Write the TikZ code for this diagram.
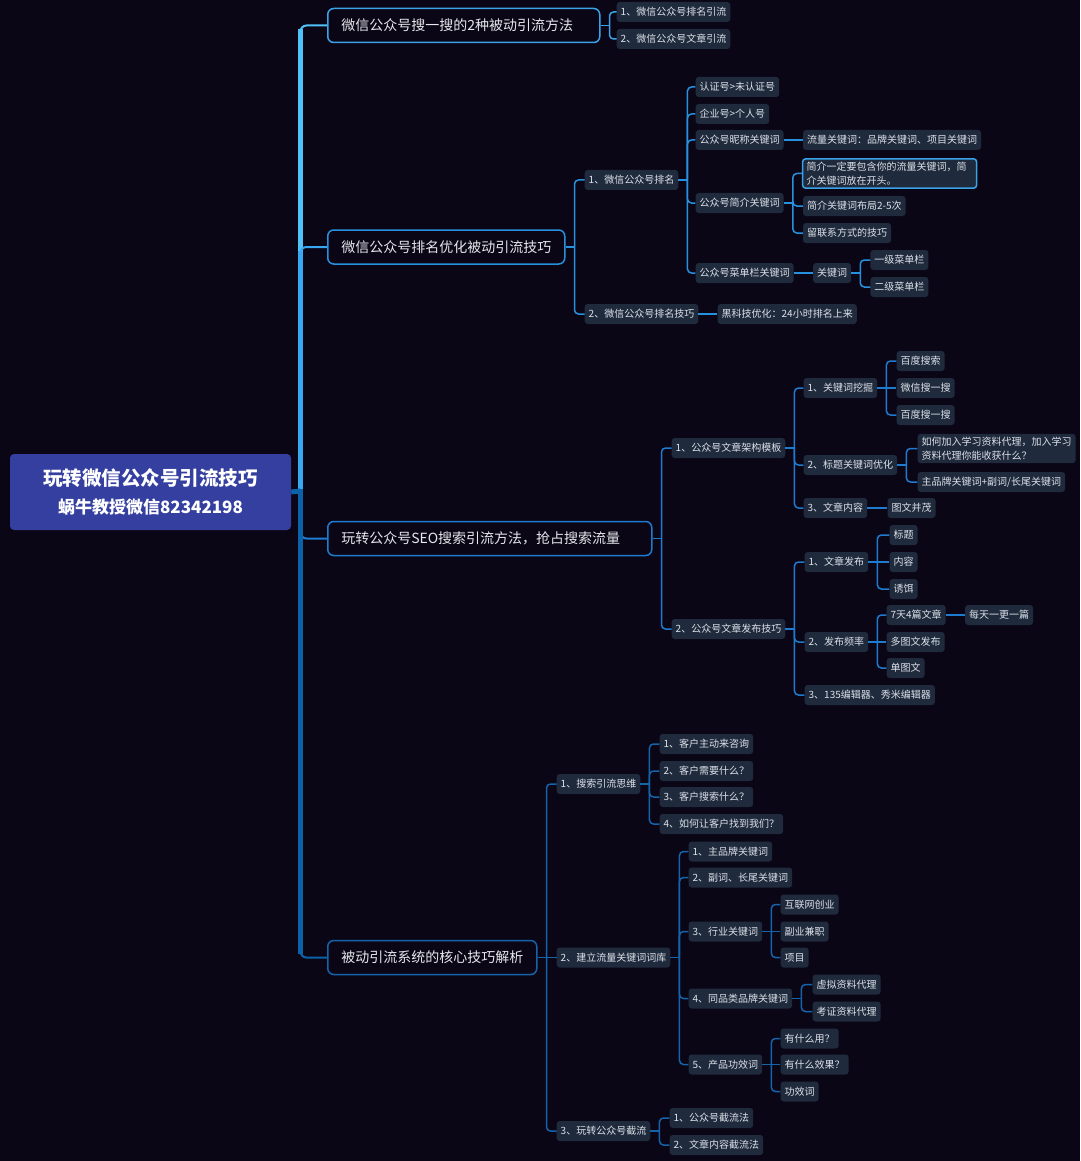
\documentclass[tikz,border=0pt]{standalone}
\usepackage{fontspec}
\setmainfont{Noto Sans CJK SC}
\usetikzlibrary{positioning}

\definecolor{bgc}{HTML}{0A0616}
\definecolor{rootc}{HTML}{343FA0}
\definecolor{leaffill}{HTML}{1F2A3C}
\definecolor{leaftext}{HTML}{DDE2EA}
\definecolor{limbtext}{HTML}{E6E8EC}
\definecolor{t1}{HTML}{4FC3F7}
\definecolor{t2}{HTML}{36A9F2}
\definecolor{t3}{HTML}{1E7CD2}
\definecolor{t4}{HTML}{0B62A8}
\definecolor{l1}{HTML}{3AA3E8}
\definecolor{l2}{HTML}{2891DF}
\definecolor{l3}{HTML}{1F7BD0}
\definecolor{l4}{HTML}{1563AA}

\tikzset{
  leaf/.style={rectangle, rounded corners=3pt, fill=leaffill, text=leaftext,
    inner xsep=4pt, inner ysep=0pt, minimum height=20pt,
    font=\fontsize{10}{14}\selectfont},
  limb/.style={rectangle, rounded corners=6pt, draw=#1, line width=1.5pt,
    fill=bgc, text=limbtext, inner xsep=13.5pt, inner ysep=0pt,
    minimum height=34pt, font=\fontsize{14}{17}\selectfont},
  hub/.style={rectangle, rounded corners=4pt, fill=rootc, text=white,
    align=center, minimum width=281pt, minimum height=76pt,
    font=\fontsize{19.5}{28}\selectfont\bfseries},
  link/.style={draw=#1, line width=1.5pt},
}

% elbow from parent to child
\newcommand{\twig}[3]{%
  \draw[link=#1] (#2.east) -- ++(9,0);
  \draw[link=#1, rounded corners=4pt] (#2.east) ++(9,0) |- (#3.west);}
% straight line to a lone child
\newcommand{\stem}[3]{\draw[link=#1] (#2.east) -- (#3.west);}

\begin{document}
\begin{tikzpicture}[x=1pt, y=-1pt]
  \useasboundingbox (0,0) rectangle (1080,1161);
  \fill[bgc] (0,0) rectangle (1080,1161);

  % root
  \node[hub] (hub) at (150.5,492) {玩转微信公众号引流技巧\\{\fontsize{17}{20}\selectfont 蜗牛教授微信82342198}};
  \coordinate (fork) at (300.5,491);

  % branch 1
  \node[limb=l1, anchor=west, text width=245pt, align=left] (b1) at (327,25.5) {微信公众号搜一搜的2种被动引流方法};
  \node[leaf, right=16pt of b1, yshift=13.5pt] (b1a) {1、微信公众号排名引流};
  \node[leaf, right=16pt of b1, yshift=-13.5pt] (b1b) {2、微信公众号文章引流};

  % branch 2
  \node[limb=l2, anchor=west] (b2) at (327,247) {微信公众号排名优化被动引流技巧};
  \node[leaf, right=19pt of b2, yshift=67pt] (b2a) {1、微信公众号排名};
  \node[leaf, right=17pt of b2a, yshift=93pt] (b2a1) {认证号>未认证号};
  \node[leaf, right=17pt of b2a, yshift=66pt] (b2a2) {企业号>个人号};
  \node[leaf, right=17pt of b2a, yshift=40pt] (b2a3) {公众号昵称关键词};
  \node[leaf, right=19pt of b2a3] (b2a3a) {流量关键词：品牌关键词、项目关键词};
  \node[leaf, right=17pt of b2a, yshift=-23pt] (b2a4) {公众号简介关键词};
  \node[leaf, draw=l1, line width=1.5pt, text width=166pt, align=left, inner ysep=3pt,
        right=18pt of b2a4, yshift=29.5pt] (b2a4a) {简介一定要包含你的流量关键词，简\\介关键词放在开头。};
  \node[leaf, right=19pt of b2a4, yshift=-3pt] (b2a4b) {简介关键词布局2-5次};
  \node[leaf, right=19pt of b2a4, yshift=-30pt] (b2a4c) {留联系方式的技巧};
  \node[leaf, right=17pt of b2a, yshift=-93pt] (b2a5) {公众号菜单栏关键词};
  \node[leaf, right=19pt of b2a5] (b2a5a) {关键词};
  \node[leaf, right=19pt of b2a5a, yshift=13pt] (b2a5a1) {一级菜单栏};
  \node[leaf, right=19pt of b2a5a, yshift=-14pt] (b2a5a2) {二级菜单栏};
  \node[leaf, right=19pt of b2, yshift=-67pt] (b2b) {2、微信公众号排名技巧};
  \node[leaf, right=19pt of b2b] (b2b1) {黑科技优化：24小时排名上来};

  % branch 3
  \node[limb=l3, anchor=west, text width=297pt, align=left] (b3) at (327,538.5) {玩转公众号SEO搜索引流方法，抢占搜索流量};
  \node[leaf, right=19pt of b3, yshift=90.5pt] (b3a) {1、公众号文章架构模板};
  \node[leaf, right=18pt of b3a, yshift=60pt] (b3a1) {1、关键词挖掘};
  \node[leaf, right=19pt of b3a1, yshift=27pt] (b3a1a) {百度搜索};
  \node[leaf, right=19pt of b3a1] (b3a1b) {微信搜一搜};
  \node[leaf, right=19pt of b3a1, yshift=-27pt] (b3a1c) {百度搜一搜};
  \node[leaf, right=18pt of b3a, yshift=-17pt] (b3a2) {2、标题关键词优化};
  \node[leaf, align=left, inner ysep=3pt, right=20pt of b3a2, yshift=16.5pt] (b3a2a) {如何加入学习资料代理，加入学习\\资料代理你能收获什么？};
  \node[leaf, right=20pt of b3a2, yshift=-17pt] (b3a2b) {主品牌关键词+副词/长尾关键词};
  \node[leaf, right=18pt of b3a, yshift=-60pt] (b3a3) {3、文章内容};
  \node[leaf, right=20pt of b3a3] (b3a3a) {图文并茂};
  \node[leaf, right=19pt of b3, yshift=-90.5pt] (b3b) {2、公众号文章发布技巧};
  \node[leaf, right=19pt of b3b, yshift=67pt] (b3b1) {1、文章发布};
  \node[leaf, right=21pt of b3b1, yshift=27pt] (b3b1a) {标题};
  \node[leaf, right=21pt of b3b1] (b3b1b) {内容};
  \node[leaf, right=21pt of b3b1, yshift=-27pt] (b3b1c) {诱饵};
  \node[leaf, right=19pt of b3b, yshift=-13pt] (b3b2) {2、发布频率};
  \node[leaf, right=18pt of b3b2, yshift=27pt] (b3b2a) {7天4篇文章};
  \node[leaf, right=19pt of b3b2a] (b3b2a1) {每天一更一篇};
  \node[leaf, right=18pt of b3b2] (b3b2b) {多图文发布};
  \node[leaf, right=18pt of b3b2, yshift=-26pt] (b3b2c) {单图文};
  \node[leaf, right=19pt of b3b, yshift=-66pt] (b3b3) {3、135编辑器、秀米编辑器};

  % branch 4
  \node[limb=l4, anchor=west] (b4) at (327,957.5) {被动引流系统的核心技巧解析};
  \node[leaf, right=19pt of b4, yshift=173.5pt] (b4a) {1、搜索引流思维};
  \node[leaf, right=19pt of b4a, yshift=40pt] (b4a1) {1、客户主动来咨询};
  \node[leaf, right=19pt of b4a, yshift=13pt] (b4a2) {2、客户需要什么？};
  \node[leaf, right=19pt of b4a, yshift=-13pt] (b4a3) {3、客户搜索什么？};
  \node[leaf, right=19pt of b4a, yshift=-40pt] (b4a4) {4、如何让客户找到我们？};
  \node[leaf, right=19pt of b4] (b4b) {2、建立流量关键词词库};
  \node[leaf, right=18pt of b4b, yshift=106pt] (b4b1) {1、主品牌关键词};
  \node[leaf, right=18pt of b4b, yshift=80pt] (b4b2) {2、副词、长尾关键词};
  \node[leaf, right=18pt of b4b, yshift=26pt] (b4b3) {3、行业关键词};
  \node[leaf, right=18pt of b4b3, yshift=27pt] (b4b3a) {互联网创业};
  \node[leaf, right=18pt of b4b3] (b4b3b) {副业兼职};
  \node[leaf, right=18pt of b4b3, yshift=-26pt] (b4b3c) {项目};
  \node[leaf, right=18pt of b4b, yshift=-41pt] (b4b4) {4、同品类品牌关键词};
  \node[leaf, right=20pt of b4b4, yshift=14pt] (b4b4a) {虚拟资料代理};
  \node[leaf, right=20pt of b4b4, yshift=-13pt] (b4b4b) {考证资料代理};
  \node[leaf, right=18pt of b4b, yshift=-107pt] (b4b5) {5、产品功效词};
  \node[leaf, right=18pt of b4b5, yshift=26pt] (b4b5a) {有什么用？};
  \node[leaf, right=18pt of b4b5] (b4b5b) {有什么效果？};
  \node[leaf, right=18pt of b4b5, yshift=-27pt] (b4b5c) {功效词};
  \node[leaf, right=19pt of b4, yshift=-173.5pt] (b4c) {3、玩转公众号截流};
  \node[leaf, right=19pt of b4c, yshift=13pt] (b4c1) {1、公众号截流法};
  \node[leaf, right=19pt of b4c, yshift=-14pt] (b4c2) {2、文章内容截流法};

  % trunk
  \foreach \b/\c in {b1/t1, b2/t2, b3/t3, b4/t4} {
    \draw[line width=2pt, \c, rounded corners=6pt] (fork) |- (\b.west);
    \draw[line width=5pt, \c, line cap=rect, shorten >=6pt] (fork) -- (fork |- \b.west);
  }
  \draw[line width=5pt, t4] (hub.east) -- (fork);

  % links
  \foreach \c in {b1a, b1b} \twig{l1}{b1}{\c};
  \foreach \c in {b2a, b2b} \twig{l2}{b2}{\c};
  \foreach \c in {b2a1, b2a2, b2a3, b2a4, b2a5} \twig{l2}{b2a}{\c};
  \foreach \c in {b2a4a, b2a4b, b2a4c} \twig{l2}{b2a4}{\c};
  \foreach \c in {b2a5a1, b2a5a2} \twig{l2}{b2a5a}{\c};
  \stem{l2}{b2a3}{b2a3a};
  \stem{l2}{b2a5}{b2a5a};
  \stem{l2}{b2b}{b2b1};
  \foreach \c in {b3a, b3b} \twig{l3}{b3}{\c};
  \foreach \c in {b3a1, b3a2, b3a3} \twig{l3}{b3a}{\c};
  \foreach \c in {b3a1a, b3a1c} \twig{l3}{b3a1}{\c};
  \stem{l3}{b3a1}{b3a1b};
  \foreach \c in {b3a2a, b3a2b} \twig{l3}{b3a2}{\c};
  \stem{l3}{b3a3}{b3a3a};
  \foreach \c in {b3b1, b3b2, b3b3} \twig{l3}{b3b}{\c};
  \foreach \c in {b3b1a, b3b1c} \twig{l3}{b3b1}{\c};
  \stem{l3}{b3b1}{b3b1b};
  \foreach \c in {b3b2a, b3b2c} \twig{l3}{b3b2}{\c};
  \stem{l3}{b3b2}{b3b2b};
  \stem{l3}{b3b2a}{b3b2a1};
  \foreach \c in {b4a, b4c} \twig{l4}{b4}{\c};
  \stem{l4}{b4}{b4b};
  \foreach \c in {b4a1, b4a2, b4a3, b4a4} \twig{l4}{b4a}{\c};
  \foreach \c in {b4b1, b4b2, b4b3, b4b4, b4b5} \twig{l4}{b4b}{\c};
  \foreach \c in {b4b3a, b4b3c} \twig{l4}{b4b3}{\c};
  \stem{l4}{b4b3}{b4b3b};
  \foreach \c in {b4b4a, b4b4b} \twig{l4}{b4b4}{\c};
  \foreach \c in {b4b5a, b4b5c} \twig{l4}{b4b5}{\c};
  \stem{l4}{b4b5}{b4b5b};
  \foreach \c in {b4c1, b4c2} \twig{l4}{b4c}{\c};
\end{tikzpicture}
\end{document}
